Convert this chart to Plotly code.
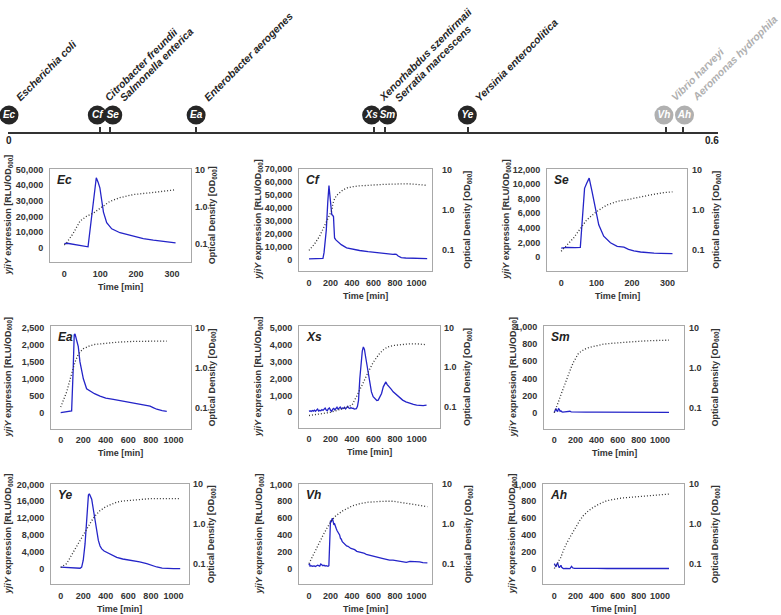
import plotly.graph_objects as go

# ---------------- data ----------------
species_abbr = ["Ec", "Cf", "Se", "Ea", "Xs", "Sm", "Ye", "Vh", "Ah"]
species_name = ["Escherichia coli", "Citrobacter freundii", "Salmonella enterica",
                "Enterobacter aerogenes", "Xenorhabdus szentirmaii", "Serratia marcescens",
                "Yersinia enterocolitica", "Vibrio harveyi", "Aeromonas hydrophila"]
species_dist = [0.0, 0.078, 0.086, 0.159, 0.309, 0.319, 0.389, 0.556, 0.570]
species_active = [True, True, True, True, True, True, True, False, False]
timeline_labels = ["0", "0.6"]

# Ec
ec_lux_t = [0, 8, 66, 89, 94, 99, 104, 109, 118, 132, 155, 192, 220, 248, 280, 310]
ec_lux = [2800, 3000, 700, 44800, 42000, 38400, 30600, 22900, 16100, 12200, 9700, 7400, 6000, 5050, 4100, 3300]
ec_od_t = [0, 5, 25, 44, 62, 81, 99, 127, 155, 192, 248, 310]
ec_od = [0.095, 0.104, 0.196, 0.42, 0.56, 0.68, 0.91, 1.41, 1.78, 2.15, 2.45, 2.9]

# Cf
cf_lux_t = [0, 50, 100, 130, 140, 150, 161, 175, 186, 192, 199, 205, 212, 220, 228, 233, 238, 250,
            270, 300, 350, 400, 471, 550, 626, 700, 782, 800, 813, 830, 859, 900, 937, 1000, 1050, 1100]
cf_lux = [800, 900, 1000, 1200, 5600, 12000, 23000, 45000, 57500, 52000, 46000, 38000, 35000, 34500,
          33500, 25000, 17000, 15500, 13700, 11800, 9400, 8300, 7300, 6400, 5600, 5000, 4300, 4500,
          4300, 3000, 1800, 1500, 1400, 1200, 1100, 1000]
cf_od_t = [0, 50, 99, 130, 161, 190, 208, 215, 222, 239, 260, 290, 317, 360, 400, 471, 550, 626, 700,
           782, 850, 906, 1000, 1100]
cf_od = [0.098, 0.14, 0.22, 0.33, 0.51, 0.75, 0.9, 1.0, 1.4, 1.9, 2.3, 2.75, 3.1, 3.5, 3.7, 3.9, 4.05,
         4.15, 4.25, 4.3, 4.4, 4.4, 4.25, 4.0]

# Se
se_lux_t = [0, 16, 40, 54, 58, 66, 72, 79, 87, 96, 106, 120, 139, 158, 177, 190, 205, 224, 243, 262, 281, 300, 314]
se_lux = [1220, 1300, 1280, 1300, 4000, 9400, 10100, 10800, 9000, 6700, 4400, 2850, 1940, 1450, 1350,
          1050, 820, 680, 580, 530, 490, 460, 450]
se_od_t = [0, 35, 72, 100, 129, 158, 185, 214, 240, 261, 290, 314]
se_od = [0.091, 0.195, 0.55, 0.89, 1.3, 1.6, 1.75, 2.0, 2.2, 2.4, 2.65, 2.75]

# Ea
ea_lux_t = [0, 30, 60, 90, 97, 110, 120, 127, 140, 156, 171, 186, 201, 230, 260, 300, 349, 400, 467,
            520, 600, 645, 700, 750, 793, 820, 852, 900, 941]
ea_lux = [0, 10, 20, 30, 50, 1200, 2300, 2330, 2150, 1950, 1500, 1250, 1000, 705, 640, 560, 490, 430,
          390, 360, 320, 290, 250, 220, 190, 150, 100, 60, 40]
ea_od_t = [0, 53, 97, 127, 150, 172, 200, 230, 260, 300, 350, 408, 500, 645, 800, 941]
ea_od = [0.104, 0.25, 0.71, 1.4, 2.0, 2.5, 3.0, 3.35, 3.6, 3.85, 4.0, 4.2, 4.4, 4.6, 4.7, 4.7]

# Xs
xs_lux_t = [0, 10, 20, 30, 40, 50, 60, 70, 80, 90, 100, 110, 120, 130, 140, 150, 160, 170, 180, 190,
            200, 210, 220, 230, 240, 250, 260, 270, 280, 290, 300, 310, 320, 330, 340, 350, 360, 370,
            380, 390, 400, 410, 420, 430, 440, 450, 460, 472, 485, 495, 505, 515, 525, 534, 550, 565,
            580, 596, 615, 630, 643, 660, 674, 690, 705, 714, 725, 740, 751, 765, 782, 800, 820, 844,
            870, 900, 937, 970, 1000, 1030, 1060, 1092]
xs_lux = [60, 90, 50, 110, 70, 130, 60, 100, 190, 80, 120, 90, 160, 110, 200, 250, 140, 90, 210, 260,
          120, 60, 180, 230, 140, 200, 300, 180, 240, 310, 200, 260, 230, 300, 200, 260, 350, 250,
          220, 280, 230, 240, 190, 200, 210, 350, 700, 1990, 3000, 3600, 3850, 3700, 3300, 2960, 2200,
          1600, 1200, 920, 760, 700, 720, 900, 1110, 1500, 1750, 1790, 1650, 1550, 1500, 1350, 1210,
          1100, 980, 860, 720, 620, 525, 470, 420, 390, 400, 430]
xs_od_t = [0, 100, 200, 316, 400, 450, 503, 534, 565, 596, 650, 689, 730, 782, 850, 937, 1000, 1092]
xs_od = [0.06, 0.065, 0.072, 0.09, 0.11, 0.2, 0.42, 0.6, 0.9, 1.3, 2.1, 2.7, 3.2, 3.5, 3.7, 3.85, 3.85, 3.65]

# Sm
sm_lux_t = [0, 8, 16, 24, 32, 40, 47, 55, 63, 70, 80, 100, 120, 140, 148, 160, 200, 300, 400, 500,
            600, 700, 800, 900, 1000, 1085]
sm_lux = [0, 30, 47, 20, 15, 45, 40, 15, 20, 10, 5, 8, 12, 10, 15, 8, 5, 6, 4, 5, 3, 5, 3, 4, 3, 3]
sm_od_t = [0, 20, 40, 60, 80, 100, 120, 140, 160, 180, 200, 227, 260, 306, 360, 420, 464, 540, 621,
           700, 800, 900, 1000, 1085]
sm_od = [0.075, 0.1, 0.14, 0.2, 0.28, 0.4, 0.55, 0.75, 1.0, 1.33, 1.7, 2.2, 2.6, 3.0, 3.3, 3.6, 3.8,
         4.0, 4.2, 4.35, 4.5, 4.65, 4.8, 4.8]

# Ye
ye_lux_t = [0, 53, 100, 150, 172, 186, 200, 216, 228, 237, 246, 254, 265, 275, 290, 305, 320, 334, 349,
            364, 385, 408, 450, 497, 550, 600, 645, 700, 763, 800, 852, 900, 941, 1000, 1060]
ye_lux = [380, 300, 200, 120, 100, 380, 2000, 5880, 11000, 15300, 17500, 17800, 17300, 16500, 14000,
          11400, 8800, 6700, 5400, 4700, 4200, 3900, 3300, 2700, 2300, 2100, 1950, 1600, 1180, 800,
          400, 150, 50, 20, 0]
ye_od_t = [0, 30, 53, 112, 150, 201, 240, 275, 310, 349, 400, 450, 497, 550, 645, 700, 793, 900, 1060]
ye_od = [0.08, 0.09, 0.1, 0.195, 0.3, 0.51, 0.8, 1.2, 1.65, 2.15, 2.7, 3.1, 3.5, 3.75, 4.0, 4.15, 4.3, 4.3, 4.3]

# Vh
vh_lux_t = [0, 5, 10, 20, 30, 40, 50, 60, 70, 80, 90, 100, 110, 120, 130, 140, 150, 160, 170, 177,
            185, 192, 200, 208, 217, 225, 232, 239, 247, 255, 262, 270, 278, 285, 293, 301, 310, 318,
            326, 332, 340, 350, 363, 375, 390, 405, 425, 445, 465, 490, 510, 533, 560, 590, 620, 658,
            690, 720, 750, 782, 810, 840, 870, 906, 940, 970, 999, 1030, 1060, 1102]
vh_lux = [40, 60, 30, 35, 28, 30, 32, 25, 30, 40, 35, 30, 55, 45, 35, 40, 30, 35, 30, 27, 35, 300,
          570, 560, 600, 560, 520, 530, 480, 470, 450, 430, 420, 400, 360, 350, 320, 310, 300, 280,
          275, 270, 265, 250, 240, 235, 225, 205, 200, 195, 185, 170, 160, 150, 145, 130, 120, 110,
          100, 100, 95, 85, 80, 75, 85, 85, 85, 80, 70, 67]
vh_od_t = [0, 68, 130, 170, 208, 250, 317, 400, 471, 550, 626, 700, 782, 850, 937, 1000, 1102]
vh_od = [0.1, 0.24, 0.51, 0.8, 1.2, 1.6, 2.15, 2.8, 3.2, 3.5, 3.65, 3.7, 3.7, 3.5, 3.2, 3.0, 2.7]

# Ah
ah_lux_t = [0, 8, 16, 24, 32, 40, 47, 55, 63, 70, 85, 110, 148, 156, 164, 172, 190, 250, 300, 400,
            500, 600, 700, 800, 900, 1000, 1085]
ah_lux = [59, 40, 20, 55, 65, 30, 10, 25, 40, 15, 0, 2, 0, 15, 27, 10, 3, 2, 4, 2, 1, 2, 1, 2, 1, 1, 1]
ah_od_t = [0, 30, 60, 85, 110, 148, 180, 211, 240, 274, 320, 369, 430, 495, 560, 621, 700, 779, 900,
           1000, 1085]
ah_od = [0.075, 0.1, 0.14, 0.21, 0.3, 0.46, 0.65, 0.91, 1.2, 1.6, 2.1, 2.6, 3.2, 3.8, 4.1, 4.4, 4.6,
         4.8, 5.1, 5.4, 5.6]

panel_data = {
    "Ec": (ec_lux_t, ec_lux, ec_od_t, ec_od),
    "Cf": (cf_lux_t, cf_lux, cf_od_t, cf_od),
    "Se": (se_lux_t, se_lux, se_od_t, se_od),
    "Ea": (ea_lux_t, ea_lux, ea_od_t, ea_od),
    "Xs": (xs_lux_t, xs_lux, xs_od_t, xs_od),
    "Sm": (sm_lux_t, sm_lux, sm_od_t, sm_od),
    "Ye": (ye_lux_t, ye_lux, ye_od_t, ye_od),
    "Vh": (vh_lux_t, vh_lux, vh_od_t, vh_od),
    "Ah": (ah_lux_t, ah_lux, ah_od_t, ah_od),
}

# ---------------- styling / layout ----------------
W, H = 781, 615
FONT = "Liberation Sans, Arial, sans-serif"
TXT = "#333333"
BLUE = "#2424c8"
BOXC = "#a8a8a8"

# plot boxes in pixels: left, right, top, bottom
BOX = {
    "Ec": (50, 191, 165, 259), "Cf": (299, 432, 165, 268), "Se": (547, 687, 165, 268),
    "Ea": (51, 191, 324, 427), "Xs": (299, 440, 324, 426), "Sm": (544, 684, 324, 427),
    "Ye": (51, 189, 483, 584), "Vh": (299, 432, 483, 584), "Ah": (543, 684, 483, 584),
}
XRANGE = {
    "Ec": [-40, 353], "Cf": [-93, 1145], "Se": [-40, 355],
    "Ea": [-86, 1156], "Xs": [-93, 1217], "Sm": [-97, 1227],
    "Ye": [-86, 1138], "Vh": [-93, 1145], "Ah": [-107, 1227],
}
YRANGE = {
    "Ec": [-8900, 50600], "Cf": [-8400, 70500], "Se": [-1900, 12100],
    "Ea": [-470, 2550], "Xs": [-895, 5060], "Sm": [-187, 1008],
    "Ye": [-3700, 20100], "Vh": [-186, 1005], "Ah": [-186, 1005],
}
Y2RANGE = {
    "Ec": [-1.48, 1.03], "Cf": [-1.515, 1.017], "Se": [-1.53, 1.02],
    "Ea": [-1.52, 1.04], "Xs": [-1.525, 1.025], "Sm": [-1.52, 1.025],
    "Ye": [-1.52, 1.0], "Vh": [-1.52, 1.0], "Ah": [-1.52, 1.0],
}
YSTEP = {"Ec": (50000, 10000), "Cf": (70000, 10000), "Se": (12000, 2000), "Ea": (2500, 500),
         "Xs": (5000, 1000), "Sm": (1000, 200), "Ye": (20000, 4000), "Vh": (1000, 200), "Ah": (1000, 200)}
XMAX = {"Ec": (300, 100), "Se": (300, 100)}
LTITLE_X = {"Ec": 8, "Ea": 8, "Ye": 8, "Cf": 259, "Xs": 259, "Vh": 259, "Se": 507, "Sm": 513, "Ah": 512}
RTITLE_X = {"Ec": 212, "Ea": 212, "Ye": 211, "Cf": 468, "Xs": 468, "Vh": 468, "Se": 717, "Sm": 715, "Ah": 715}
RSTANDOFF = {"Ec": 3, "Ea": 3, "Ye": 3, "Cf": 9, "Xs": 3, "Vh": 9, "Se": 4, "Sm": 4, "Ah": 4}
CIRCLE_SHIFT = {"Ec": 1, "Cf": -3, "Se": 3, "Ea": 0, "Xs": -2, "Sm": 2, "Ye": -1, "Vh": -2, "Ah": 2}

TL_L, TL_R, TL_Y = 8, 718, 128  # timeline pixel geometry

tickfont = dict(family=FONT, size=9, color=TXT, weight="bold")

fig = go.Figure()
layout = dict(width=W, height=H, margin=dict(l=0, r=0, t=0, b=0),
              paper_bgcolor="white", plot_bgcolor="white", showlegend=False,
              font=dict(family=FONT, color=TXT))
ann = []


def aid(letter, n):
    return letter if n == 1 else f"{letter}{n}"


def akey(letter, n):
    return f"{letter}axis" if n == 1 else f"{letter}axis{n}"


for i, name in enumerate(species_abbr):
    k = i + 1
    xr, yr, yr2 = aid("x", k), aid("y", 2 * k - 1), aid("y", 2 * k)
    L, R, T, B = BOX[name]
    xdom = [L / W, R / W]
    ydom = [1 - B / H, 1 - T / H]
    xmax, xstep = XMAX.get(name, (1000, 200))
    ymax, ystep = YSTEP[name]
    layout[akey("x", k)] = dict(domain=xdom, anchor=yr, range=XRANGE[name],
                                tickvals=list(range(0, xmax + 1, xstep)),
                                showline=True, mirror=True, linecolor=BOXC, linewidth=1,
                                showgrid=False, zeroline=False, ticks="", tickfont=tickfont,
                                ticklabelstandoff=3)
    layout[akey("y", 2 * k - 1)] = dict(domain=ydom, anchor=xr, range=YRANGE[name],
                                        tickvals=list(range(0, ymax + 1, ystep)), tickformat=",d",
                                        showline=True, mirror=True, linecolor=BOXC, linewidth=1,
                                        showgrid=False, zeroline=False, ticks="", tickfont=tickfont,
                                        ticklabelstandoff=4)
    layout[akey("y", 2 * k)] = dict(domain=ydom, anchor=xr, overlaying=yr, side="right", type="log",
                                    range=Y2RANGE[name], tickvals=[0.1, 1, 10],
                                    ticktext=["0.1", "1.0", "10"], showline=False, showgrid=False,
                                    zeroline=False, ticks="", tickfont=tickfont,
                                    ticklabelstandoff=RSTANDOFF[name])
    t, lux, odt, od = panel_data[name]
    fig.add_trace(go.Scatter(x=t, y=lux, xaxis=xr, yaxis=yr, mode="lines",
                             line=dict(color=BLUE, width=1.3), hoverinfo="skip"))
    fig.add_trace(go.Scatter(x=odt, y=od, xaxis=xr, yaxis=yr2, mode="lines",
                             line=dict(color="#333333", width=1.3, dash="1px,2px"), hoverinfo="skip"))
    # panel label
    ann.append(dict(text=name, xref="paper", yref="paper",
                    x=(L + 5) / W, y=1 - (T + 2) / H, xanchor="left", yanchor="top",
                    showarrow=False,
                    font=dict(family=FONT, size=12, color="#222", weight="bold", style="italic")))
    # axis titles
    ann.append(dict(text="Time [min]", xref="paper", yref="paper",
                    x=(L + R) / 2 / W, y=1 - (B + 25) / H, xanchor="center", yanchor="middle",
                    showarrow=False, font=dict(family=FONT, size=9, color=TXT, weight="bold")))
    ann.append(dict(text="<i>yjiY</i> expression [RLU/OD<sub>600</sub>]", xref="paper", yref="paper",
                    x=LTITLE_X[name] / W, y=1 - (T + B) / 2 / H, xanchor="center", yanchor="middle",
                    textangle=-90, showarrow=False,
                    font=dict(family=FONT, size=9, color=TXT, weight="bold")))
    ann.append(dict(text="Optical Density [OD<sub>600</sub>]", xref="paper", yref="paper",
                    x=RTITLE_X[name] / W, y=1 - (T + B) / 2 / H, xanchor="center", yanchor="middle",
                    textangle=-90, showarrow=False,
                    font=dict(family=FONT, size=9, color=TXT, weight="bold")))

# ---------------- timeline ----------------
tx, ty = "x10", "y19"
layout["xaxis10"] = dict(domain=[TL_L / W, TL_R / W], anchor=ty, range=[0, 0.6],
                         tickvals=species_dist + [0.6], showticklabels=False,
                         showline=True, linecolor="#333", linewidth=2, ticks="inside",
                         ticklen=5, tickwidth=1.5, tickcolor="#333", showgrid=False, zeroline=False)
layout["yaxis19"] = dict(domain=[1 - TL_Y / H, 1], anchor=tx, range=[0, TL_Y], visible=False)

px_per_unit = (TL_R - TL_L) / 0.6
circle_x = [d + CIRCLE_SHIFT[a] / px_per_unit for d, a in zip(species_dist, species_abbr)]
circle_col = ["#262626" if act else "#b0b0b0" for act in species_active]
fig.add_trace(go.Scatter(x=circle_x, y=[TL_Y - 111] * len(circle_x), xaxis=tx, yaxis=ty,
                         mode="markers+text", text=species_abbr,
                         textposition="middle center",
                         textfont=dict(family=FONT, size=10, color="white", weight="bold", style="italic"),
                         marker=dict(size=19, color=circle_col, line=dict(width=0)),
                         hoverinfo="skip", cliponaxis=False))
for a, nm, d, act in zip(species_abbr, species_name, species_dist, species_active):
    ann.append(dict(text=nm, xref=tx, yref="paper", x=d,
                    xshift=CIRCLE_SHIFT[a] + 2, y=1 - 102 / H, xanchor="left", yanchor="bottom",
                    textangle=-45, showarrow=False,
                    font=dict(family=FONT, size=10.5, color="#262626" if act else "#b0b0b0",
                              weight="bold", style="italic")))
for val, lab in zip([0, 0.6], timeline_labels):
    ann.append(dict(text=lab, xref=tx, yref="paper", x=val, y=1 - 137 / H,
                    xanchor="center", xshift=1 if val == 0 else -6, yanchor="middle",
                    showarrow=False, font=dict(family=FONT, size=10, color="#222", weight="bold")))

layout["annotations"] = ann
fig.update_layout(**layout)
fig.write_html("out.html", config={"displayModeBar": False},
               post_script="document.body.style.margin='0px';")
